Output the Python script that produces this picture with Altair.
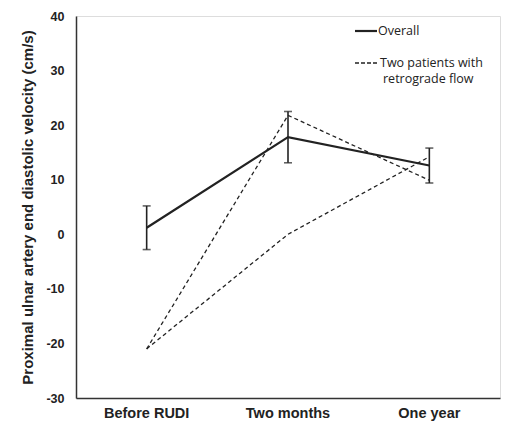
import altair as alt
import pandas as pd

# Time points and measured values
timepoints = ["Before RUDI", "Two months", "One year"]
overall_mean = [1.2, 17.8, 12.6]
overall_err = [4.0, 4.7, 3.2]
patient_a = [-21.0, 21.8, 9.9]
patient_b = [-21.0, 0.0, 14.2]

# Legend entries
legend_labels = ["Overall", "Two patients with", "retrograde flow"]

overall = pd.DataFrame({
    "time": timepoints,
    "value": overall_mean,
    "lo": [m - e for m, e in zip(overall_mean, overall_err)],
    "hi": [m + e for m, e in zip(overall_mean, overall_err)],
})
patients = pd.concat([
    pd.DataFrame({"time": timepoints, "value": patient_a, "patient": "A"}),
    pd.DataFrame({"time": timepoints, "value": patient_b, "patient": "B"}),
])

x = alt.X("time:N", sort=timepoints, title=None,
          scale=alt.Scale(type="band", paddingInner=0, paddingOuter=0),
          axis=alt.Axis(labelAngle=0, ticks=False, labelPadding=8,
                        labelFont="Liberation Sans", labelFontSize=14.5,
                        labelFontWeight="bold", labelColor="#222",
                        domainColor="#333", domainWidth=1.5))
yscale = alt.Scale(domain=[-30, 40], nice=False, zero=False)
y = alt.Y("value:Q", scale=yscale,
          title="Proximal ulnar artery end diastolic velocity (cm/s)",
          axis=alt.Axis(values=list(range(-30, 41, 10)), ticks=False, grid=False,
                        labelExpr="'' + datum.value",
                        labelPadding=12, labelFont="Liberation Sans",
                        labelFontSize=12.5, labelFontWeight="bold", labelColor="#222",
                        titleFont="Liberation Sans", titleFontSize=15,
                        titleFontWeight="bold", titleColor="#222", titlePadding=10,
                        domainColor="#333", domainWidth=1.5))

dashed = alt.Chart(patients).mark_line(
    color="#222", strokeWidth=1.3, strokeDash=[4, 3]
).encode(x=x, y=y, detail="patient:N")

solid = alt.Chart(overall).mark_line(color="#222", strokeWidth=2.2).encode(x=x, y=y)

bars = alt.Chart(overall).mark_rule(color="#222", strokeWidth=1.6).encode(
    x=x, y=alt.Y("lo:Q", scale=yscale), y2="hi:Q")
cap_lo = alt.Chart(overall).mark_tick(color="#222", thickness=1.6, size=8,
                                      orient="horizontal").encode(
    x=x, y=alt.Y("lo:Q", scale=yscale))
cap_hi = alt.Chart(overall).mark_tick(color="#222", thickness=1.6, size=8,
                                      orient="horizontal").encode(
    x=x, y=alt.Y("hi:Q", scale=yscale))

# Legend drawn in pixel space at the top right of the plot
leg_solid = alt.Chart(pd.DataFrame({"k": [0]})).mark_rule(
    color="#222", strokeWidth=2.2).encode(
    x=alt.value(279), x2=alt.value(301), y=alt.value(15))
leg_dash = alt.Chart(pd.DataFrame({"k": [0]})).mark_rule(
    color="#222", strokeWidth=1.3, strokeDash=[4, 2]).encode(
    x=alt.value(279), x2=alt.value(301), y=alt.value(47))
leg_text = alt.Chart(pd.DataFrame({
    "label": legend_labels,
    "px": [302, 304, 307],
    "py": [15, 47, 63],
})).mark_text(align="left", baseline="middle", font="Open Sans",
              fontSize=12.5, color="#222").encode(
    x=alt.X("px:Q", scale=None), y=alt.Y("py:Q", scale=None), text="label:N")

chart = alt.layer(dashed, solid, bars, cap_lo, cap_hi,
                  leg_solid, leg_dash, leg_text).properties(
    width=424, height=382,
    autosize=alt.AutoSizeParams(type="none"),
    padding={"left": 76, "top": 16, "right": 5, "bottom": 33},
).configure_view(stroke=None).configure(background="white")

chart.save("out.html", embed_options={"renderer": "svg", "actions": False})
